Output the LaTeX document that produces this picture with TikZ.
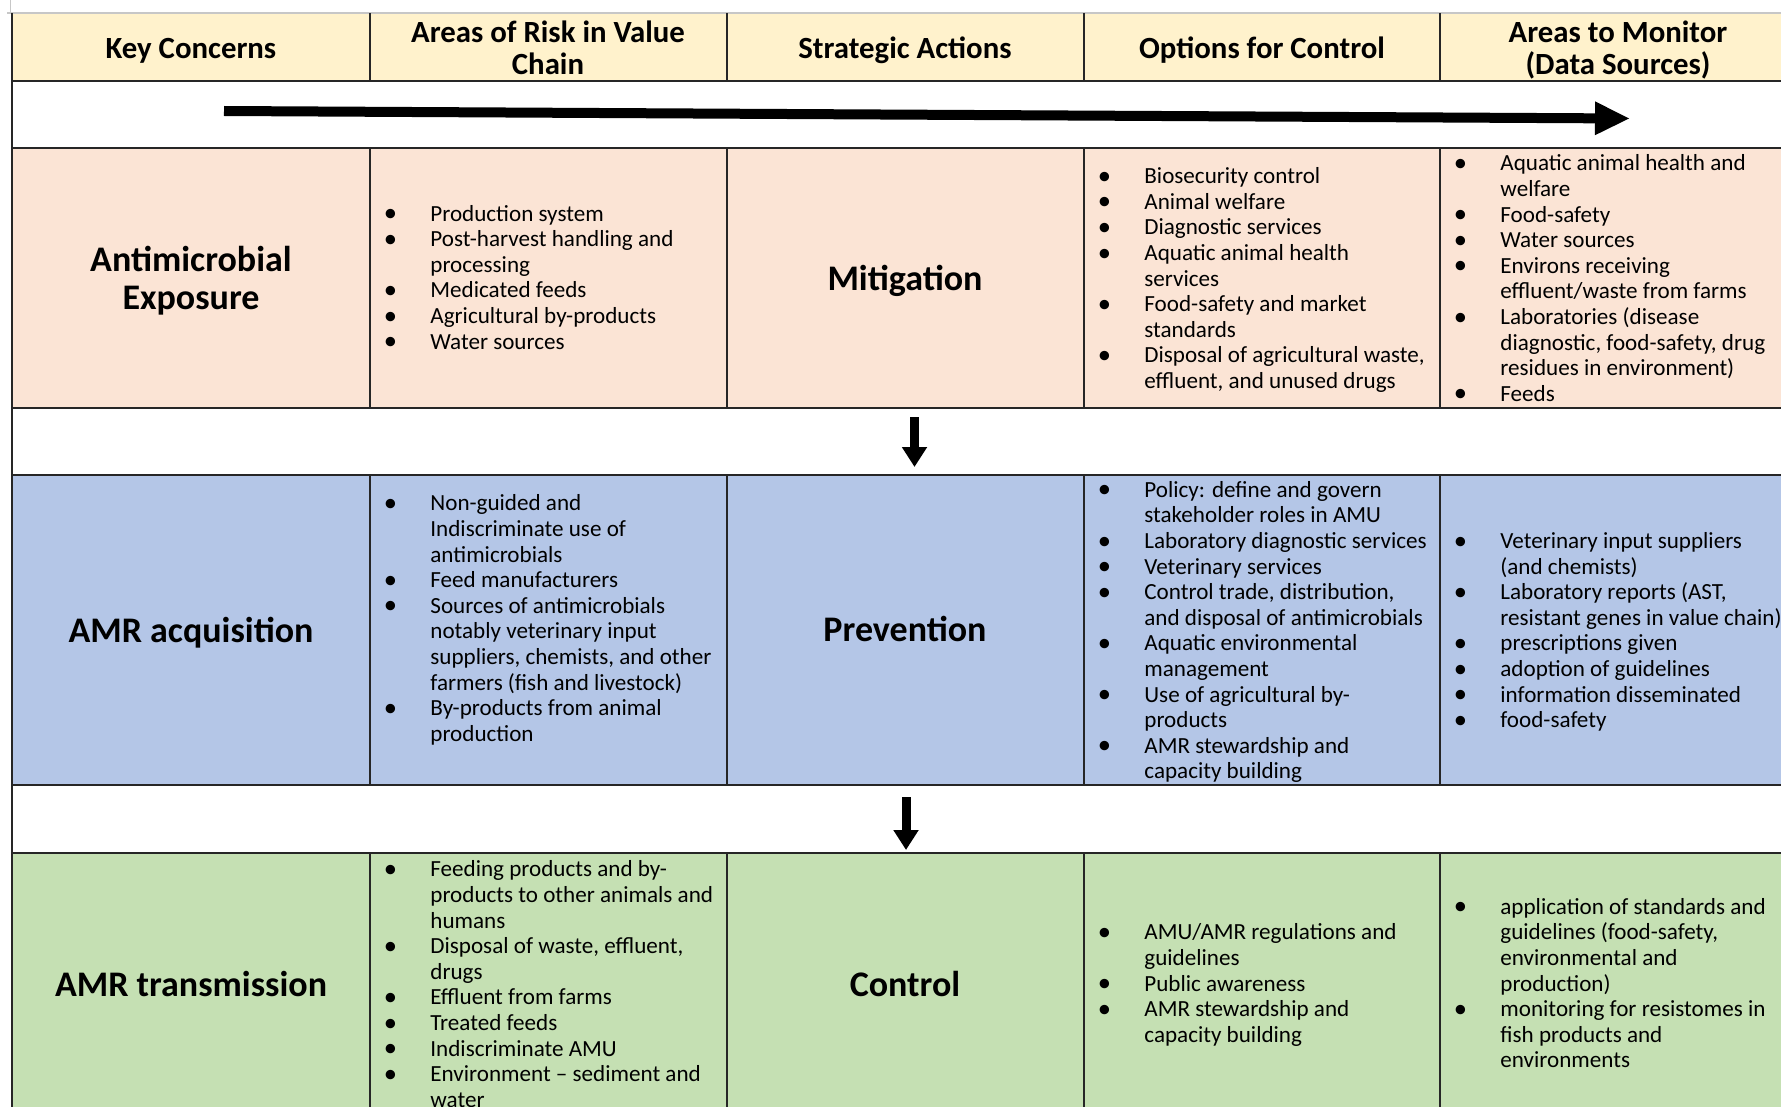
\documentclass[tikz,border=0pt]{standalone}
\usepackage{fontspec}
\setmainfont{Carlito}
\usetikzlibrary{arrows.meta}
\definecolor{headfill}{HTML}{FFF2CC}
\definecolor{expfill}{HTML}{FBE4D5}
\definecolor{acqfill}{HTML}{B4C6E7}
\definecolor{trnfill}{HTML}{C5E0B3}
\newcommand{\bl}{\makebox[20pt]{\raisebox{-0.3pt}{\scalebox{1.15}{\textbullet}}}}
\newcommand{\bulletcell}[1]{\begin{tabular}{@{}p{30pt}@{}l@{}}#1\end{tabular}}

\begin{document}
\begin{tikzpicture}[x=0.5pt,y=-0.5pt]
    \tikzstyle{grid}=[draw,line width=0.8pt,black!85]
    \tikzstyle{edge}=[draw,line width=0.6pt,black!22]
    \tikzstyle{head}=[align=center,inner sep=0pt,font=\fontsize{15.4}{16}\bfseries\selectfont]
    \tikzstyle{concern}=[align=center,inner sep=0pt,font=\fontsize{18}{19.3}\bfseries\selectfont]
    \tikzstyle{items}=[anchor=west,inner sep=0pt,font=\fontsize{11.55}{12.8}\selectfont]
    \tikzstyle{flow}=[draw,line width=5pt,-{Triangle[length=17.5pt,width=15.5pt]}]
    \tikzstyle{down}=[draw,line width=4.5pt,-{Triangle[length=10pt,width=12pt]}]
    \useasboundingbox (0,0) rectangle (1781,1107);
    \fill[white] (0,0) rectangle (1781,1107);
    \fill[headfill] (12,13.5) rectangle (1781,81);
    \fill[expfill] (12,148) rectangle (1781,408);
    \fill[acqfill] (12,475) rectangle (1781,785);
    \fill[trnfill] (12,853) rectangle (1781,1107);
    \draw[edge] (10.7,0) -- (10.7,13) (7,13) -- (1781,13);
    \foreach \y in {81,148,408,475,785,853}
        \draw[grid] (12,\y) -- (1781,\y);
    \draw[grid] (12,13.5) -- (12,1107);
    \foreach \x in {370,727,1084,1440}
        \draw[grid] (\x,13.5) -- (\x,81) (\x,148) -- (\x,408) (\x,475) -- (\x,785) (\x,853) -- (\x,1107);
    \node[head] (hkey) at (191,50.5) {Key Concerns};
    \node[head] (hrisk) at (548,47.5) {Areas of Risk in Value\\Chain};
    \node[head] (hact) at (905,50.5) {Strategic Actions};
    \node[head] (hopt) at (1262,50.5) {Options for Control};
    \node[head] (hmon) at (1618,50) {Areas to Monitor\\(Data Sources)};
    \coordinate (flowstart) at (224,111);
    \coordinate (flowend) at (1630,118.5);
    \draw[flow] (flowstart) -- (flowend);
    \node[concern] (exposure) at (191,280.5) {Antimicrobial\\Exposure};
    \node[concern] (mitigation) at (905,280.5) {Mitigation};
    \node[items] (exprisk) at (370,280) {\bulletcell{%
        \bl & Production system\\
        \bl & Post-harvest handling and\\
            & processing\\
        \bl & Medicated feeds\\
        \bl & Agricultural by-products\\
        \bl & Water sources}};
    \node[items] (expopt) at (1084,281) {\bulletcell{%
        \bl & Biosecurity control\\
        \bl & Animal welfare\\
        \bl & Diagnostic services\\
        \bl & Aquatic animal health\\
            & services\\
        \bl & Food-safety and market\\
            & standards\\
        \bl & Disposal of agricultural waste,\\
            & effluent, and unused drugs}};
    \node[items] (expmon) at (1440,281) {\bulletcell{%
        \bl & Aquatic animal health and\\
            & welfare\\
        \bl & Food-safety\\
        \bl & Water sources\\
        \bl & Environs receiving\\
            & effluent/waste from farms\\
        \bl & Laboratories (disease\\
            & diagnostic, food-safety, drug\\
            & residues in environment)\\
        \bl & Feeds}};
    \coordinate (down1a) at (914.5,417);
    \coordinate (down1b) at (914.5,467);
    \draw[down] (down1a) -- (down1b);
    \node[concern] (acquisition) at (191,632.5) {AMR acquisition};
    \node[concern] (prevention) at (905,629) {Prevention};
    \node[items] (acqrisk) at (370,621) {\bulletcell{%
        \bl & Non-guided and\\
            & Indiscriminate use of\\
            & antimicrobials\\
        \bl & Feed manufacturers\\
        \bl & Sources of antimicrobials\\
            & notably veterinary input\\
            & suppliers, chemists, and other\\
            & farmers (fish and livestock)\\
        \bl & By-products from animal\\
            & production}};
    \node[items] (acqopt) at (1084,633) {\bulletcell{%
        \bl & Policy: define and govern\\
            & stakeholder roles in AMU\\
        \bl & Laboratory diagnostic services\\
        \bl & Veterinary services\\
        \bl & Control trade, distribution,\\
            & and disposal of antimicrobials\\
        \bl & Aquatic environmental\\
            & management\\
        \bl & Use of agricultural by-\\
            & products\\
        \bl & AMR stewardship and\\
            & capacity building}};
    \node[items] (acqmon) at (1440,633) {\bulletcell{%
        \bl & Veterinary input suppliers\\
            & (and chemists)\\
        \bl & Laboratory reports (AST,\\
            & resistant genes in value chain)\\
        \bl & prescriptions given\\
        \bl & adoption of guidelines\\
        \bl & information disseminated\\
        \bl & food-safety}};
    \coordinate (down2a) at (906,797);
    \coordinate (down2b) at (906,850);
    \draw[down] (down2a) -- (down2b);
    \node[concern] (transmission) at (191,984) {AMR transmission};
    \node[concern] (control) at (905,984) {Control};
    \node[items] (trnrisk) at (370,987) {\bulletcell{%
        \bl & Feeding products and by-\\
            & products to other animals and\\
            & humans\\
        \bl & Disposal of waste, effluent,\\
            & drugs\\
        \bl & Effluent from farms\\
        \bl & Treated feeds\\
        \bl & Indiscriminate AMU\\
        \bl & Environment -- sediment and\\
            & water}};
    \node[items] (trnopt) at (1084,986) {\bulletcell{%
        \bl & AMU/AMR regulations and\\
            & guidelines\\
        \bl & Public awareness\\
        \bl & AMR stewardship and\\
            & capacity building}};
    \node[items] (trnmon) at (1440,986) {\bulletcell{%
        \bl & application of standards and\\
            & guidelines (food-safety,\\
            & environmental and\\
            & production)\\
        \bl & monitoring for resistomes in\\
            & fish products and\\
            & environments}};
\end{tikzpicture}
\end{document}
